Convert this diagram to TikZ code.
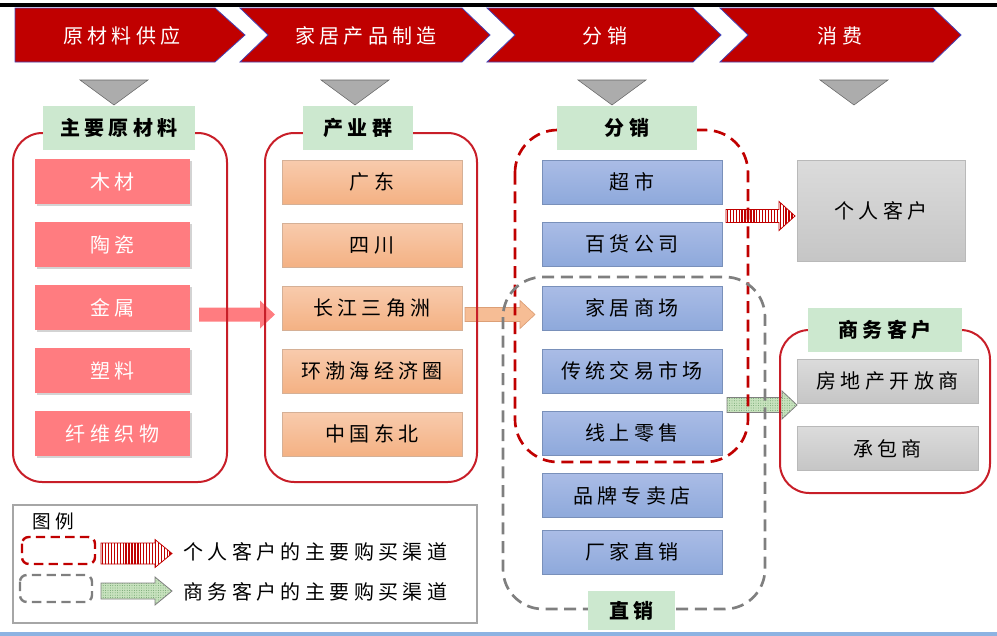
\documentclass[tikz,border=0pt]{standalone}
\usepackage{fontspec}
\setmainfont{Noto Sans CJK SC}[LetterSpace=22]
\usetikzlibrary{shadows,patterns.meta}

\definecolor{stagered}{RGB}{192,0,0}
\definecolor{framered}{RGB}{200,30,40}
\definecolor{rawpink}{RGB}{255,124,128}
\definecolor{labelgreen}{RGB}{204,232,207}
\definecolor{arrowgreen}{RGB}{200,226,190}
\definecolor{orangetop}{RGB}{248,203,173}
\definecolor{orangebot}{RGB}{244,177,131}
\definecolor{bluetop}{RGB}{170,188,230}
\definecolor{bluebot}{RGB}{142,169,219}
\definecolor{grayedge}{RGB}{127,127,127}
\definecolor{linkblue}{RGB}{141,179,226}

\tikzset{
  txt/.style={font=\fontsize{15}{18}\selectfont, inner sep=0pt},
  stagetext/.style={txt, text=white},
  stage/.style={fill=stagered, draw=blue!45!gray, line width=0.6pt},
  droptri/.style={fill=gray!65, draw=gray!80!black, line width=0.4pt},
  header/.style={txt, font=\fontsize{15}{18}\selectfont\bfseries, fill=labelgreen,
    minimum height=33pt},
  rawbox/.style={txt, fill=rawpink, text=white, minimum width=116.25pt,
    minimum height=33.75pt,
    drop shadow={shadow xshift=1.5pt, shadow yshift=-1.5pt, opacity=0.35}},
  clusterbox/.style={txt, top color=orangetop, bottom color=orangebot,
    draw=orangebot!80!black!70, line width=0.5pt, minimum width=135pt, minimum height=33pt},
  chanbox/.style={txt, top color=bluetop, bottom color=bluebot,
    draw=bluebot!85!black, line width=0.5pt, minimum width=135pt, minimum height=33pt},
  custbox/.style={txt, top color=gray!28, bottom color=gray!45,
    draw=gray!55, line width=0.5pt, minimum width=135.75pt, minimum height=33pt},
  frame/.style={draw=framered, line width=1.5pt, rounded corners=22pt},
  redframe/.style={draw=stagered, line width=2pt, dash pattern=on 9pt off 5pt},
  grayframe/.style={draw=grayedge, line width=2pt, dash pattern=on 9pt off 5pt},
  redarrow/.style={draw=stagered, line width=0.6pt,
    pattern={Lines[angle=90,distance=2.2pt,line width=1pt]}, pattern color=stagered},
  greenarrow/.style={draw=grayedge, line width=0.6pt, preaction={fill=arrowgreen},
    pattern={Dots[distance=1.8pt,radius=0.35pt]}, pattern color=green!35!black!60}
}

\begin{document}
\begin{tikzpicture}[x=0.75pt,y=-0.75pt]
  \useasboundingbox (0,0) rectangle (997,636);
  % linii de margine
  \draw[line width=2.5pt,black] (0,5) -- (997,5);
  \draw[line width=2.5pt,linkblue] (0,634) -- (997,634);

  % etapele lanțului
  \draw[stage] (15,8) -- (215,8) -- (245,35) -- (215,62) -- (15,62) -- cycle;
  \foreach \xa/\xb in {240/462,487/693,720/933}
    \draw[stage] (\xa,8) -- (\xb,8) -- ({\xb+28},35) -- (\xb,62) -- (\xa,62)
      -- ({\xa+28},35) -- cycle;
  \node[stagetext] (supply) at (122,36) {原材料供应};
  \node[stagetext] (making) at (366,36) {家居产品制造};
  \node[stagetext] (distrib) at (605,36) {分销};
  \node[stagetext] (consume) at (840,36) {消费};

  % triunghiuri
  \foreach \xc in {114,355,612,854}
    \draw[droptri] ({\xc-34},80) -- ({\xc+34},80) -- (\xc,105) -- cycle;

  % săgeți
  \fill[rawpink] (199,307.5) -- (260,307.5) -- (260,300.5) -- (275,314.5)
    -- (260,328.5) -- (260,321.5) -- (199,321.5) -- cycle;
  \draw[draw=orangebot!90!black, fill=orangebot, fill opacity=0.85, line width=0.5pt]
    (465,307.5) -- (520,307.5) -- (520,300.5) -- (535,314.5)
    -- (520,328.5) -- (520,321.5) -- (465,321.5) -- cycle;
  \draw[redarrow] (726,209.5) -- (779,209.5) -- (779,201.5) -- (795,216)
    -- (779,230.5) -- (779,222.5) -- (726,222.5) -- cycle;
  \draw[greenarrow] (727,397.5) -- (782,397.5) -- (782,391) -- (797,405)
    -- (782,419) -- (782,412.5) -- (727,412.5) -- cycle;

  % chenare
  \draw[frame] (13,133) rectangle (227,482);
  \draw[frame] (265,133) rectangle (477,482);
  \draw[frame] (780,330) rectangle (990,493);
  \draw[redframe, rounded corners=32pt] (515,130) rectangle (748,462);
  \draw[grayframe, rounded corners=30pt] (503,277) rectangle (765,609);

  % titluri
  \node[header, minimum width=114pt] (rawhead) at (119,128) {主要原材料};
  \node[header, minimum width=82.5pt] (clusterhead) at (358,128) {产业群};
  \node[header, minimum width=105pt] (chanhead) at (627,128) {分销};
  \node[header, minimum width=115.5pt] (bizhead) at (885,330) {商务客户};
  \node[header, minimum width=65.25pt, minimum height=29.25pt] (directhead)
    at (631.5,610.5) {直销};

  % materiale
  \foreach \name/\txt [count=\i] in {wood/木材,ceramic/陶瓷,metal/金属,plastic/塑料,fibre/纤维织物}
    \node[rawbox] (\name) at (112.5,{181.5+63*(\i-1)}) {\txt};

  % grupuri industriale
  \foreach \name/\txt [count=\i] in {guangdong/广东,sichuan/四川,yangtze/长江三角洲,bohai/环渤海经济圈,northeast/中国东北}
    \node[clusterbox] (\name) at (372,{182+63*(\i-1)}) {\txt};

  % canale
  \foreach \name/\y/\txt in {super/182/超市,dept/244/百货公司,mall/308/家居商场,
      market/371/传统交易市场,online/433/线上零售,brand/495.5/品牌专卖店,factory/552/厂家直销}
    \node[chanbox] (\name) at (632,\y) {\txt};

  % clienți
  \node[custbox, minimum width=126pt, minimum height=75.75pt] (person) at (881,210.5) {个人客户};
  \node[custbox] (estate) at (887.5,381) {房地产开放商};
  \node[custbox] (contract) at (887.5,448.5) {承包商};

  % legenda
  \draw[draw=gray!70, line width=0.8pt] (13,505) rectangle (477,623);
  \node[txt, font=\fontsize{14}{17}\selectfont] (legend) at (53,521) {图例};
  \draw[redframe, line width=1.8pt, dash pattern=on 7pt off 4pt, rounded corners=5pt]
    (22,537) rectangle (95,564);
  \draw[grayframe, line width=1.8pt, dash pattern=on 7pt off 4pt, rounded corners=5pt]
    (20,575) rectangle (92,602);
  \draw[redarrow] (101,543) -- (155,543) -- (155,539.5) -- (172,553.5)
    -- (155,567.5) -- (155,564) -- (101,564) -- cycle;
  \draw[greenarrow] (101,583) -- (155,583) -- (155,577) -- (172,591)
    -- (155,605) -- (155,599) -- (101,599) -- cycle;
  \node[txt, anchor=west] (personkey) at (183,552) {个人客户的主要购买渠道};
  \node[txt, anchor=west] (bizkey) at (183,592) {商务客户的主要购买渠道};
\end{tikzpicture}
\end{document}
